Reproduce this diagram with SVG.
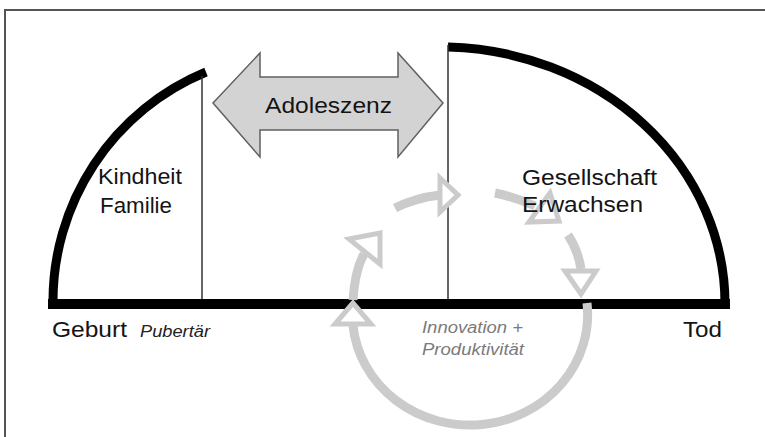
<svg xmlns="http://www.w3.org/2000/svg" width="765" height="437" viewBox="0 0 765 437">
<style>
.lbl{font-family:"Liberation Sans",Arial,sans-serif;font-size:22px;fill:#141414}
.sm{font-family:"Liberation Sans",Arial,sans-serif;font-size:16px;font-style:italic}
.thick{fill:none;stroke:#000;stroke-width:9}
.thin{fill:none;stroke:#333;stroke-width:1.5}
.cyc{fill:none;stroke:#cbcbcb;stroke-width:9}
.head{fill:#fff;stroke:#cbcbcb;stroke-width:5;stroke-linejoin:miter}
</style>
<rect width="765" height="437" fill="#fff"/>
<path d="M5,437 V10 H765" fill="none" stroke="#555" stroke-width="2"/>

<g id="lebensbogen">
  <path class="thick" d="M53,304 A247,248 0 0 1 206,72"/>
  <path class="thick" d="M448,47 A285,257 0 0 1 725,304"/>
  <path class="thin" d="M202,76 V300"/>
  <path class="thin" d="M448,45 V300"/>
  <path d="M48,304 H730" stroke="#000" stroke-width="10"/>
</g>

<g id="connectors">
  <path class="cyc" d="M353,300 Q355,270 364,254"/>
  <polygon class="head" points="349,239 380,233 380,264"/>
  <path class="cyc" d="M395,208 Q415,198 440,195"/>
  <polygon class="head" points="440,178 458,195 440,212"/>
  <path class="cyc" d="M495,193 Q515,197 535,206"/>
  <polygon class="head" points="550,193 559,221 529,222"/>
  <path class="cyc" d="M568,235 Q578,250 581,269"/>
  <polygon class="head" points="565,271 596,271 581,294"/>
  <path class="cyc" d="M587,303 A117,110 0 0 1 353,326" stroke-width="10"/>
  <polygon class="head" points="353,303 335,324 371,324"/>
</g>

<g id="adoleszenz">
  <polygon points="213,103 260,53 260,77 398,77 398,53 443,103 398,157 398,130 260,130 260,157" fill="#d3d3d3" stroke="#606060" stroke-width="1.5"/>
  <text class="lbl" x="265" y="113" textLength="127" lengthAdjust="spacingAndGlyphs">Adoleszenz</text>
</g>

<g id="kindheit">
  <text class="lbl" x="98" y="184" textLength="84" lengthAdjust="spacingAndGlyphs">Kindheit</text>
  <text class="lbl" x="100" y="213" textLength="72" lengthAdjust="spacingAndGlyphs">Familie</text>
</g>

<g id="gesellschaft">
  <text class="lbl" x="522" y="185" textLength="135" lengthAdjust="spacingAndGlyphs">Gesellschaft</text>
  <text class="lbl" x="522" y="212" textLength="121" lengthAdjust="spacingAndGlyphs">Erwachsen</text>
</g>

<g id="geburt"><text class="lbl" x="52" y="337" textLength="75" lengthAdjust="spacingAndGlyphs">Geburt</text></g>
<g id="pubertaet"><text class="sm" x="140" y="337" fill="#222" textLength="70" lengthAdjust="spacingAndGlyphs">Pubertär</text></g>
<g id="tod"><text class="lbl" x="683" y="337" textLength="39" lengthAdjust="spacingAndGlyphs">Tod</text></g>

<g id="innovation">
  <text class="sm" x="422" y="333" fill="#7a7a7a" textLength="101" lengthAdjust="spacingAndGlyphs">Innovation +</text>
  <text class="sm" x="422" y="355" fill="#7a7a7a" textLength="102" lengthAdjust="spacingAndGlyphs">Produktivität</text>
</g>
</svg>
